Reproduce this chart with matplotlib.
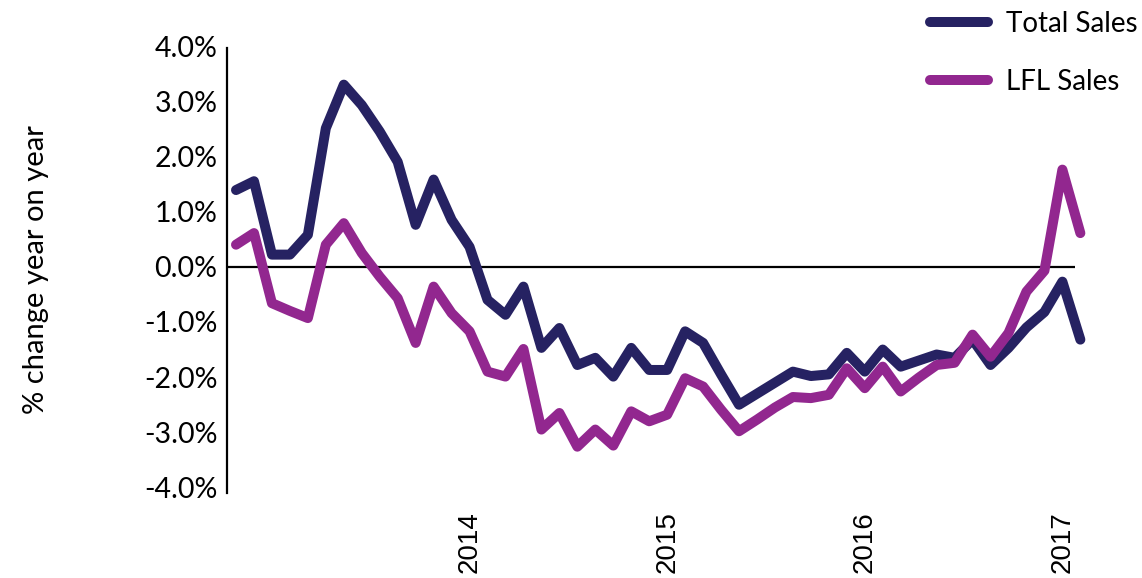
import matplotlib
matplotlib.use("Agg")
import matplotlib.pyplot as plt
import numpy as np

# monthly periods, index 0 .. 47
total_sales = [1.39, 1.55, 0.22, 0.22, 0.58, 2.51, 3.30, 2.93, 2.45, 1.90,
               0.76, 1.58, 0.85, 0.36, -0.60, -0.87, -0.36, -1.47, -1.11, -1.78,
               -1.65, -1.99, -1.47, -1.87, -1.87, -1.17, -1.38, -1.95, -2.50, -2.30,
               -2.10, -1.90, -1.98, -1.95, -1.56, -1.90, -1.50, -1.81, -1.70, -1.59,
               -1.65, -1.32, -1.78, -1.47, -1.10, -0.82, -0.27, -1.32]
lfl_sales = [0.40, 0.61, -0.66, -0.80, -0.93, 0.40, 0.79, 0.25, -0.18, -0.57,
             -1.38, -0.36, -0.84, -1.17, -1.90, -1.99, -1.49, -2.95, -2.65, -3.26,
             -2.95, -3.24, -2.62, -2.80, -2.68, -2.02, -2.17, -2.59, -2.98, -2.77,
             -2.55, -2.36, -2.38, -2.32, -1.84, -2.20, -1.81, -2.26, -2.01, -1.78,
             -1.74, -1.23, -1.63, -1.20, -0.45, -0.07, 1.76, 0.61]
year_tick_idx = [13, 24, 35, 46]
year_labels = ['2014', '2015', '2016', '2017']
y_ticks = [-4, -3, -2, -1, 0, 1, 2, 3, 4]

navy = '#262262'
purple = '#92278f'

fig = plt.figure(figsize=(11.42, 5.78), dpi=100)
ax = fig.add_axes([0.1988, 0.147, 0.7425, 0.7734])

x = np.arange(len(total_sales))
ax.plot(x, total_sales, color=navy, linewidth=7.2, label='Total Sales',
        solid_capstyle='round', solid_joinstyle='round', clip_on=False, zorder=3)
ax.plot(x, lfl_sales, color=purple, linewidth=7.2, label='LFL Sales',
        solid_capstyle='round', solid_joinstyle='round', clip_on=False, zorder=4)
ax.axhline(0, color='black', linewidth=1.6, zorder=2)

ax.set_xlim(-0.5, 46.7)
ax.set_ylim(-4.1, 4.0)

for side in ['top', 'right', 'bottom']:
    ax.spines[side].set_visible(False)
ax.spines['left'].set_linewidth(1.6)
ax.spines['left'].set_bounds(-4.1, 3.97)

ax.set_yticks(y_ticks)
ax.set_yticklabels(['%.1f%%' % v for v in y_ticks], family='Lato', fontsize=20.5)
ax.set_xticks(year_tick_idx)
ax.set_xticklabels(year_labels, rotation=90, family='Liberation Sans', fontsize=20)
ax.tick_params(axis='y', length=0, pad=7)
ax.tick_params(axis='x', length=0, pad=13)

ax.set_ylabel('% change year on year', family='Lato', fontsize=21, labelpad=68)

fig.legend(loc='upper right', bbox_to_anchor=(1.012, 1.012), frameon=False,
           prop={'family': 'Lato', 'size': 20}, handlelength=2.1,
           handletextpad=0.65, labelspacing=1.15, borderaxespad=0.25)

fig.savefig('out.png', dpi=100)
